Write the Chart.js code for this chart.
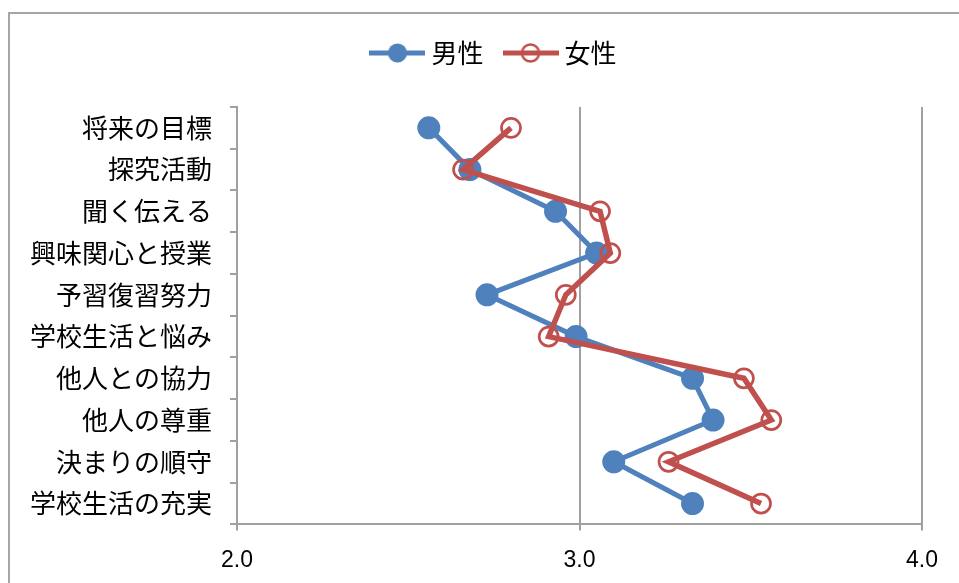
<!DOCTYPE html>
<html>
<head>
<meta charset="utf-8">
<script src="https://cdn.jsdelivr.net/npm/chart.js@4"></script>
<style>
    html, body { margin: 0; padding: 0; background: #fff; overflow: hidden; width: 959px; height: 583px; }
    #frame { position: absolute; left: 8px; top: 12px; width: 1000px; height: 1000px;
             border-left: 2px solid #a6a6a6; border-top: 2px solid #a6a6a6; }
    #categoryChart { position: absolute; left: 9px; top: 13px; }
</style>
</head>
<body>
<div id="frame"></div>
<canvas id="categoryChart" width="965" height="588"></canvas>
<script>

// --------------------------------------------------------------------------
//                              data
// --------------------------------------------------------------------------

const categories = ['将来の目標', '探究活動', '聞く伝える', '興味関心と授業', '予習復習努力',
                    '学校生活と悩み', '他人との協力', '他人の尊重', '決まりの順守', '学校生活の充実'];
const maleValues   = [2.56, 2.68, 2.93, 3.05, 2.73, 2.99, 3.33, 3.39, 3.10, 3.33];
const femaleValues = [2.80, 2.66, 3.06, 3.09, 2.96, 2.91, 3.48, 3.56, 3.26, 3.53];
const seriesNames  = ['男性', '女性'];
const xTickValues  = [2.0, 3.0, 4.0];

const BLUE = '#4F81BD';
const RED = '#C0504D';
const AXIS = '#a0a0a0';
const JP_FONT = '"Noto Sans CJK JP", "Noto Sans", sans-serif';

// --------------------------------------------------------------------------
//                         legend markers (line + circle)
// --------------------------------------------------------------------------

function legendMarker(color, filled) {
    const c = document.createElement('canvas');
    c.width = 56;
    c.height = 22;
    const g = c.getContext('2d');
    g.strokeStyle = color;
    g.lineWidth = 5;
    g.beginPath();
    g.moveTo(0, 11);
    g.lineTo(56, 11);
    g.stroke();
    g.beginPath();
    g.arc(28, 11, filled ? 9.5 : 8.5, 0, Math.PI * 2);
    if (filled) {
        g.fillStyle = color;
        g.fill();
    } else {
        g.lineWidth = 2.5;
        g.stroke();
    }
    return c;
}

const markers = [legendMarker(BLUE, true), legendMarker(RED, false)];

// legend sits a bit lower-left of the plot in the original: add room under it
// and nudge it right (the source chart was wider than this crop)
const legendPlacement = {
    id: 'legendPlacement',
    beforeInit(chart) {
        const origFit = chart.legend.fit;
        chart.legend.fit = function () {
            origFit.bind(this)();
            this.height += 31;
        };
    },
    afterLayout(chart) {
        chart.legend.left += 31;
        chart.legend.right += 31;
    }
};

// --------------------------------------------------------------------------
//                              chart
// --------------------------------------------------------------------------

const ctx = document.getElementById('categoryChart').getContext('2d');

const chartData = {
    labels: categories,
    datasets: [{
        label: seriesNames[0],
        data: maleValues,
        borderColor: BLUE,
        backgroundColor: BLUE,
        borderWidth: 5,
        pointRadius: 10.5,
        pointBorderWidth: 2,
        pointBackgroundColor: BLUE,
        pointBorderColor: BLUE,
        order: 1
    }, {
        label: seriesNames[1],
        data: femaleValues,
        borderColor: RED,
        backgroundColor: 'rgba(0,0,0,0)',
        borderWidth: 5.5,
        pointRadius: 9.5,
        pointBorderWidth: 2.7,
        pointBackgroundColor: 'rgba(0,0,0,0)',
        pointBorderColor: RED,
        order: 0
    }]
};

const options = {
    indexAxis: 'y',
    responsive: false,
    animation: false,
    devicePixelRatio: 1,
    layout: { padding: { top: 1, right: 52, bottom: 11, left: 0 } },
    plugins: {
        tooltip: { enabled: false },
        legend: {
            position: 'top',
            labels: {
                usePointStyle: true,
                pointStyleWidth: 42,
                padding: 26,
                color: '#000',
                font: { family: JP_FONT, size: 26 },
                sort: (a, b) => a.datasetIndex - b.datasetIndex,
                generateLabels(chart) {
                    const items = Chart.defaults.plugins.legend.labels.generateLabels(chart);
                    items.forEach(item => { item.pointStyle = markers[item.datasetIndex]; });
                    return items;
                }
            }
        }
    },
    scales: {
        x: {
            type: 'linear',
            min: 2,
            max: 4,
            afterBuildTicks(scale) {
                scale.ticks = xTickValues.map(v => ({ value: v }));
            },
            grid: { color: AXIS, lineWidth: 2, tickLength: 6 },
            border: { color: AXIS, width: 2 },
            ticks: {
                color: '#000',
                padding: 16,
                font: { family: '"Liberation Sans", Arial, sans-serif', size: 23 },
                callback: v => Number(v).toFixed(1)
            }
        },
        y: {
            type: 'category',
            offset: true,
            afterFit(scale) { scale.width = 228; },
            grid: { offset: true, drawOnChartArea: false, color: AXIS, lineWidth: 2, tickLength: 7 },
            border: { color: AXIS, width: 2 },
            ticks: {
                color: '#000',
                padding: 18,
                autoSkip: false,
                font: { family: JP_FONT, size: 26 }
            }
        }
    }
};

window.categoryChart = new Chart(ctx, {
    type: 'line',
    data: chartData,
    options: options,
    plugins: [legendPlacement]
});

</script>
</body>
</html>
